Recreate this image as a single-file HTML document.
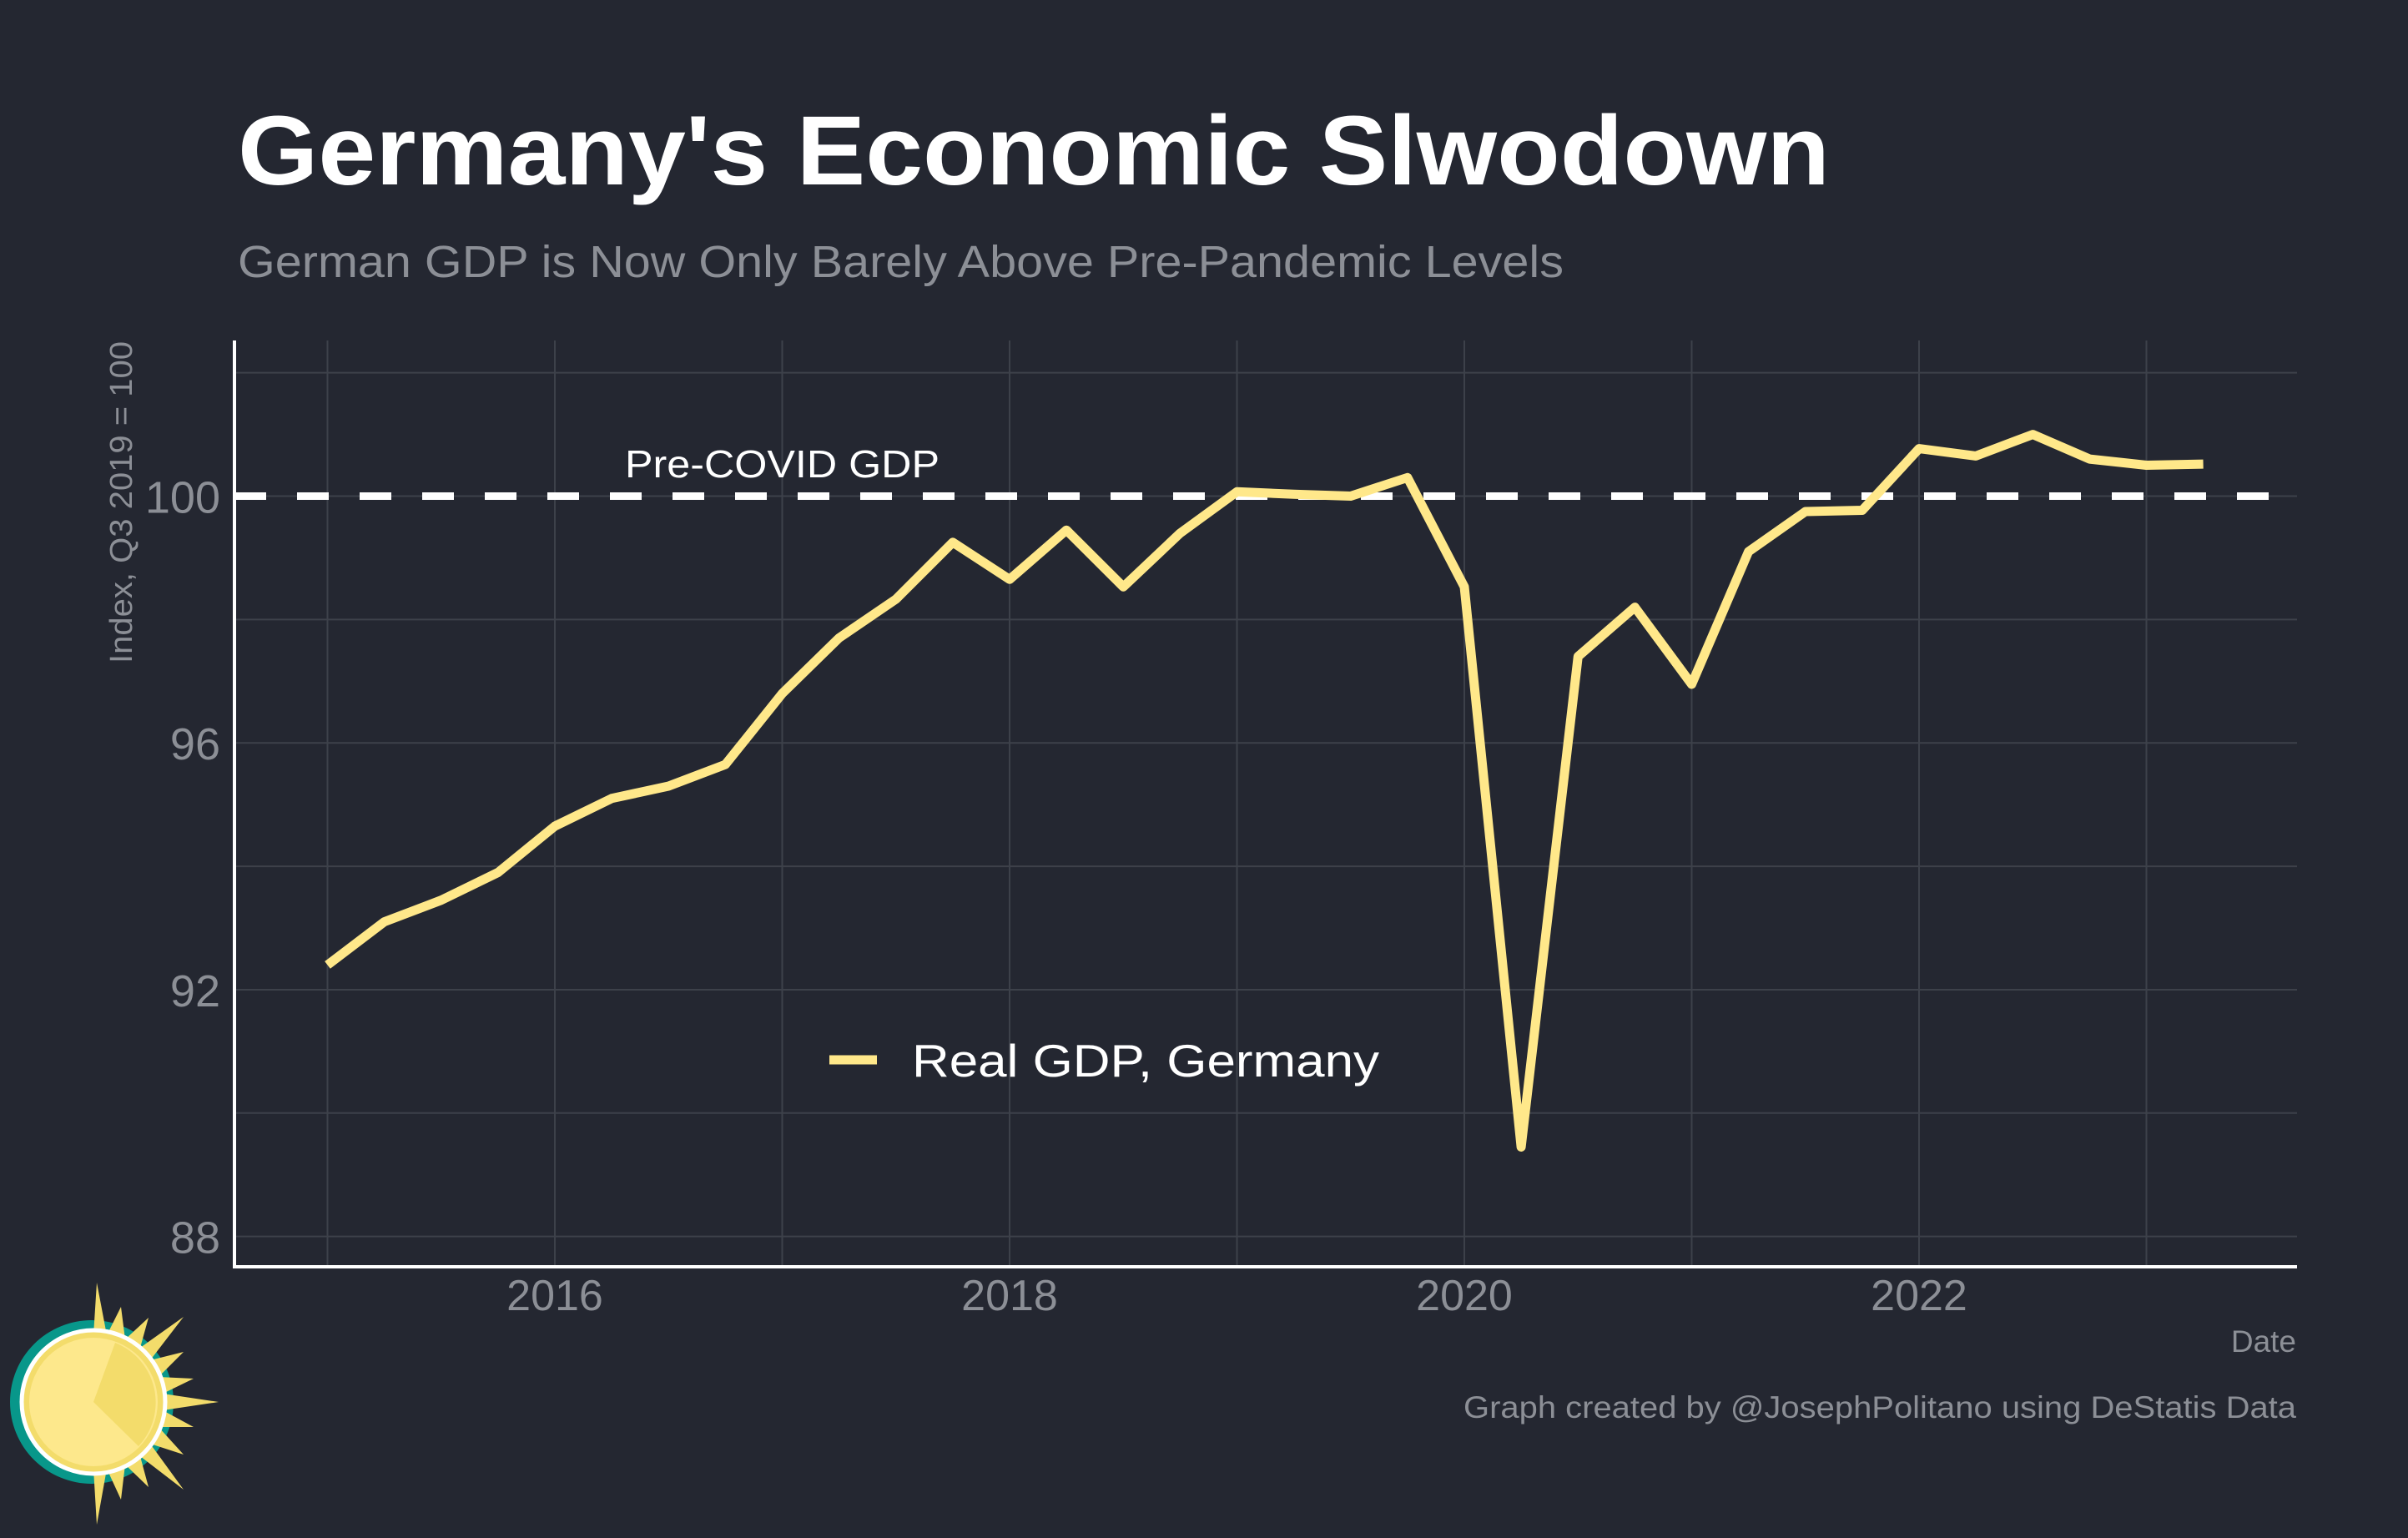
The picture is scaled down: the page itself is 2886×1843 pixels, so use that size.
<!DOCTYPE html>
<html><head><meta charset="utf-8">
<style>
html,body{margin:0;padding:0;background:#242731;}
svg{display:block;font-family:"Liberation Sans",Arial,sans-serif;}
</style></head>
<body>
<svg id="chart" width="2886" height="1843" viewBox="0 0 2886 1843" xmlns="http://www.w3.org/2000/svg">
<rect width="2886" height="1843" fill="#242731"/>
<text x="285" y="221" font-size="118" font-weight="bold" fill="#ffffff" textLength="1908" lengthAdjust="spacingAndGlyphs">Germany's Economic Slwodown</text>
<text x="285" y="332" font-size="54" fill="#8c8f96" textLength="1589" lengthAdjust="spacingAndGlyphs">German GDP is Now Only Barely Above Pre-Pandemic Levels</text>
<g id="grid"></g>
<g id="axes"></g>
<g id="series"></g>
<text x="158" y="602" font-size="38" fill="#8c8f96" text-anchor="middle" textLength="386" lengthAdjust="spacingAndGlyphs" transform="rotate(-90 158 602)">Index, Q3 2019 = 100</text>
<text x="2752" y="1620" font-size="37" fill="#8c8f96" text-anchor="end">Date</text>
<text x="2752" y="1699" font-size="37" fill="#8c8f96" text-anchor="end" textLength="998" lengthAdjust="spacingAndGlyphs">Graph created by @JosephPolitano using DeStatis Data</text>
<text x="749" y="572" font-size="46" fill="#ffffff" textLength="377" lengthAdjust="spacingAndGlyphs">Pre-COVID GDP</text>
<g>
<line x1="994" y1="1270" x2="1051" y2="1270" stroke="#ffe88a" stroke-width="11"/>
<text x="1093" y="1290" font-size="55" fill="#ffffff" textLength="560" lengthAdjust="spacingAndGlyphs">Real GDP, Germany</text>
</g>
<g>
<circle cx="110" cy="1680" r="98" fill="#08978a"/>
<polygon fill="#f3dc6b" points="112,1600 116,1537 128,1600 145,1566 150,1605 178,1579 168,1615 220,1578 180,1630 220,1620 190,1650 232,1652 195,1670 262,1680 195,1690 232,1710 190,1710 220,1743 180,1730 220,1785 168,1745 178,1782 150,1755 145,1797 128,1760 116,1827 112,1760"/>
<circle cx="112" cy="1680" r="86" fill="#f3dc6b" stroke="#ffffff" stroke-width="5"/>
<circle cx="112" cy="1680" r="77" fill="#fde88c"/>
<path d="M112,1680 L138,1609 A77,77 0 0 1 166,1733 Z" fill="#f3dc6b"/>
</g>
</svg>
<script>
const quarters = ["2015Q1","2015Q2","2015Q3","2015Q4","2016Q1","2016Q2","2016Q3","2016Q4","2017Q1","2017Q2","2017Q3","2017Q4","2018Q1","2018Q2","2018Q3","2018Q4","2019Q1","2019Q2","2019Q3","2019Q4","2020Q1","2020Q2","2020Q3","2020Q4","2021Q1","2021Q2","2021Q3","2021Q4","2022Q1","2022Q2","2022Q3","2022Q4","2023Q1","2023Q2"];
const gdpValues = [92.4,93.1,93.45,93.9,94.65,95.1,95.3,95.65,96.8,97.7,98.33,99.25,98.65,99.45,98.53,99.4,100.07,100.03,100.0,100.3,98.53,89.45,97.4,98.2,96.95,99.1,99.75,99.77,100.77,100.65,101.0,100.6,100.5,100.52];
const yTickLabels = [88,92,96,100];
const yGridValues = [88,90,92,94,96,98,100,102];
const xTickLabels = [2016,2018,2020,2022];
const xGridYears = [2015,2016,2017,2018,2019,2020,2021,2022,2023];
const refLevel = 100;

const NS="http://www.w3.org/2000/svg";
const L=281,R=2753,T=408,B=1518;
function xScale(t){return 665+(t-2016)*272.5;}
function yScale(v){return 594.5+(100-v)*73.93;}
function qToT(q){return +q.slice(0,4)+(+q.slice(5)-1)/4;}
function mk(tag,attrs,parent){const e=document.createElementNS(NS,tag);for(const k in attrs)e.setAttribute(k,attrs[k]);parent.appendChild(e);return e;}
const grid=document.getElementById('grid'),axes=document.getElementById('axes'),series=document.getElementById('series');
yGridValues.forEach(v=>{const e=mk('line',{x1:L,x2:R,y1:yScale(v),y2:yScale(v),stroke:'#3d414a','stroke-width':2},grid);

});
xGridYears.forEach(y=>{const e=mk('line',{x1:xScale(y),x2:xScale(y),y1:T,y2:B,stroke:'#3d414a','stroke-width':2},grid);

});
yTickLabels.forEach(v=>{const e=mk('text',{x:264,y:yScale(v)+20,'font-size':54,fill:'#8c8f96','text-anchor':'end'},axes);e.textContent=v;

});
xTickLabels.forEach(y=>{const e=mk('text',{x:xScale(y),y:1570,'font-size':52,fill:'#8c8f96','text-anchor':'middle'},axes);e.textContent=y;

});
const ref=mk('line',{x1:L,x2:R,y1:yScale(refLevel),y2:yScale(refLevel),stroke:'#ffffff','stroke-width':9,'stroke-dasharray':'38 37'},series);


const pts=quarters.map((q,i)=>xScale(qToT(q)).toFixed(1)+','+yScale(gdpValues[i]).toFixed(1)).join(' ');
const line=mk('polyline',{points:pts,fill:'none',stroke:'#ffe88a','stroke-width':11,'stroke-linejoin':'round'},series);


const ya=mk('line',{x1:L,x2:L,y1:T,y2:B+2,stroke:'#ffffff','stroke-width':4},axes);


const xa=mk('line',{x1:L-2,x2:R,y1:B,y2:B,stroke:'#ffffff','stroke-width':4},axes);


</script>
</body></html>
